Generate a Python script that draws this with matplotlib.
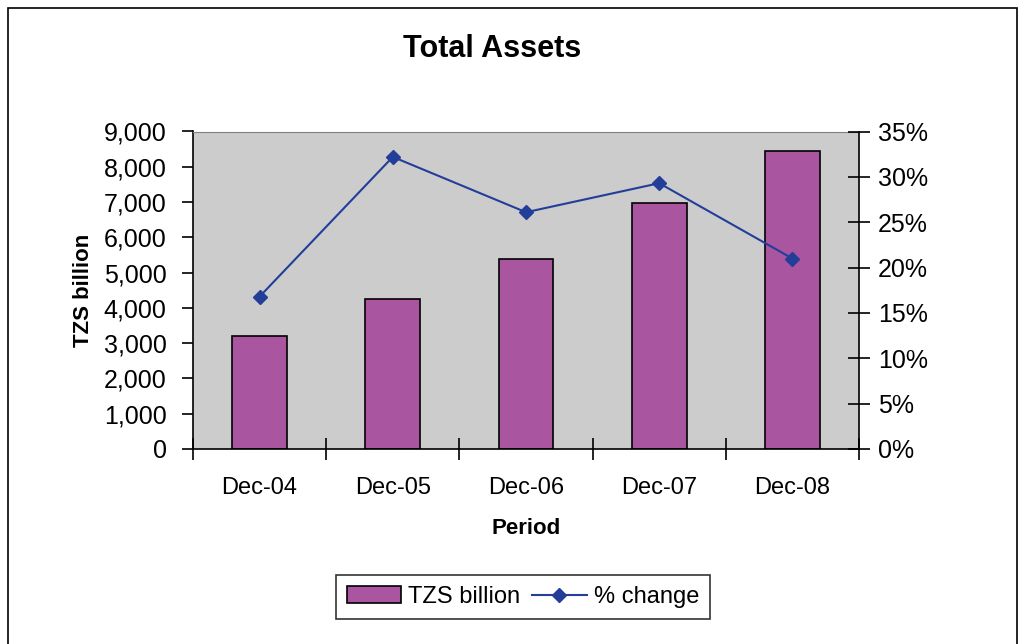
import numpy as np
import matplotlib.pyplot as plt
from matplotlib.ticker import FuncFormatter, FixedLocator
from matplotlib.patches import Rectangle

plt.rcParams['font.family'] = ['Liberation Sans', 'DejaVu Sans']

periodos = ["Dec-04", "Dec-05", "Dec-06", "Dec-07", "Dec-08"]
tzs_billion = [3215, 4255, 5385, 6975, 8450]
pct_change = [16.8, 32.2, 26.1, 29.3, 21.0]

color_barra = "#A9559F"
color_linea = "#233E99"

fig = plt.figure(figsize=(10.25, 6.44), dpi=100)
fig.patches.append(Rectangle((8 / 1025, -0.01), 1009 / 1025, 1 - 8 / 644 + 0.01,
                             transform=fig.transFigure, fill=False,
                             edgecolor="black", linewidth=1.2))

ax = fig.add_axes([193 / 1025, 1 - 449 / 644, (859 - 193) / 1025, (449 - 131.5) / 644])
ax.set_facecolor("#CCCCCC")
x = np.arange(len(periodos))
ax.bar(x, tzs_billion, width=0.41, color=color_barra, edgecolor="black",
       linewidth=1.2, label="TZS billion", zorder=2)
ax.set_xlim(-0.5, 4.5)
ax.set_ylim(0, 9000)
ax.set_yticks(np.arange(0, 9001, 1000))
ax.yaxis.set_major_formatter(FuncFormatter(lambda v, p: f"{int(v):,}"))
ax.set_xticks(x)
ax.set_xticklabels(periodos)
ax.xaxis.set_minor_locator(FixedLocator(np.arange(-0.5, 5, 1)))
ax.tick_params(axis="x", which="major", length=0, labelsize=17, pad=20)
ax.tick_params(axis="x", which="minor", length=16, direction="inout", width=1.2)
ax.tick_params(axis="y", labelsize=18, length=8, direction="out", width=1.2, pad=11)
ax.spines["top"].set_color("#808080")
ax.spines["right"].set_visible(False)
ax.spines["left"].set_linewidth(1.2)
ax.spines["bottom"].set_linewidth(1.2)
ax.set_xlabel("Period", fontsize=16, fontweight="bold", labelpad=14)
ax.set_ylabel("TZS billion", fontsize=16, fontweight="bold", labelpad=7)

ax2 = ax.twinx()
ax2.plot(x, pct_change, color=color_linea, linewidth=1.5, marker="D",
         markersize=7, label="% change", zorder=3)
ax2.set_ylim(0, 35)
ax2.set_yticks(np.arange(0, 36, 5))
ax2.yaxis.set_major_formatter(FuncFormatter(lambda v, p: f"{int(v)}%"))
ax2.tick_params(axis="y", labelsize=18, length=16, direction="inout", width=1.2, pad=5.5)
ax2.spines["top"].set_visible(False)
ax2.spines["left"].set_visible(False)
ax2.spines["bottom"].set_visible(False)
ax2.spines["right"].set_linewidth(1.2)

fig.text(492 / 1025, 1 - 49 / 644, "Total Assets", ha="center", va="center",
         fontsize=22, fontweight="bold")

h1, l1 = ax.get_legend_handles_labels()
h2, l2 = ax2.get_legend_handles_labels()
leg = fig.legend(h1 + h2, l1 + l2, loc="center", bbox_to_anchor=(523 / 1025, 1 - 597 / 644),
                 ncol=2, fontsize=17, frameon=True, fancybox=False, edgecolor="black",
                 handlelength=2.3, handletextpad=0.3, columnspacing=0.5, borderpad=0.45)
leg.get_frame().set_linewidth(1.2)

plt.savefig("out.png", dpi=100)
